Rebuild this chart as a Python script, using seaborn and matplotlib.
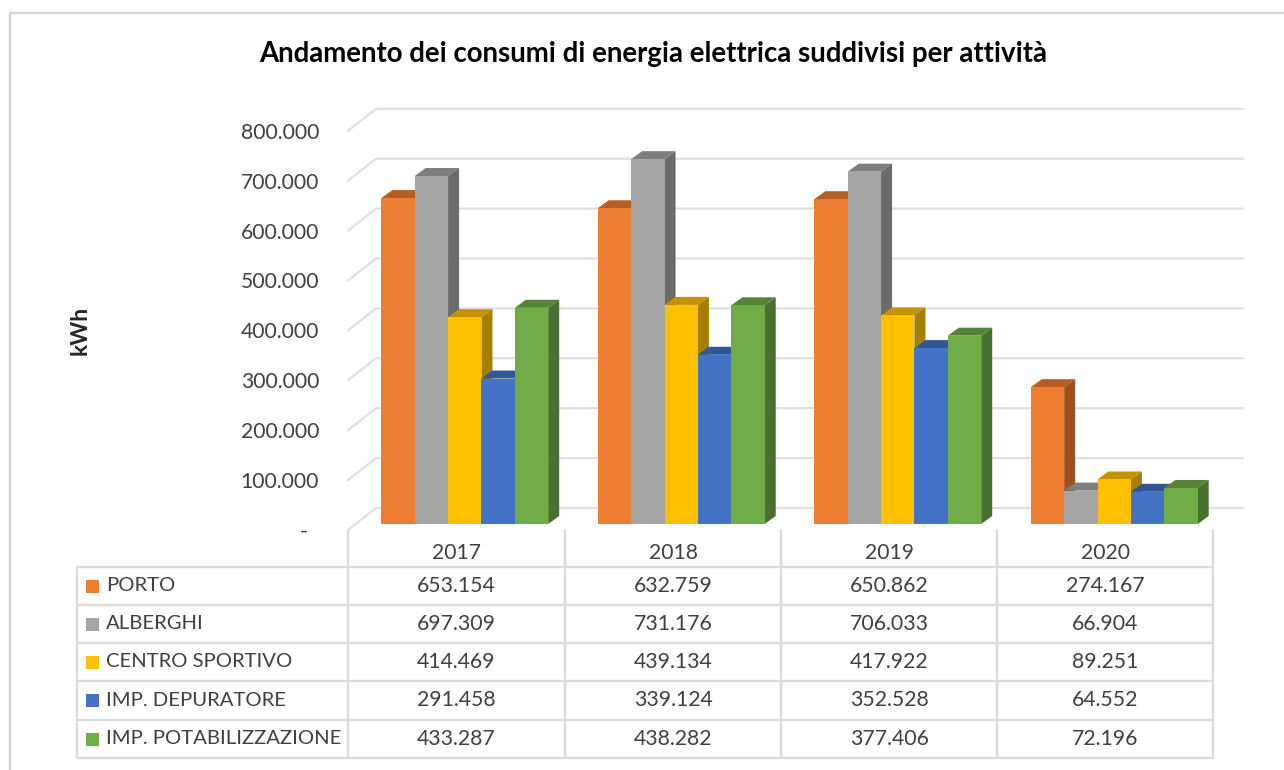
import matplotlib.pyplot as plt
import matplotlib.transforms as mtransforms
import pandas as pd
import seaborn as sns

years = ["2017", "2018", "2019", "2020"]
activities = [
    "PORTO",
    "ALBERGHI",
    "CENTRO SPORTIVO",
    "IMP. DEPURATORE",
    "IMP. POTABILIZZAZIONE",
]
porto = [653154, 632759, 650862, 274167]
alberghi = [697309, 731176, 706033, 66904]
centro_sportivo = [414469, 439134, 417922, 89251]
imp_depuratore = [291458, 339124, 352528, 64552]
imp_potabilizzazione = [433287, 438282, 377406, 72196]
y_ticks = [0, 100000, 200000, 300000, 400000, 500000, 600000, 700000, 800000]

series = [porto, alberghi, centro_sportivo, imp_depuratore, imp_potabilizzazione]
front_colors = ["#ED7D31", "#A5A5A5", "#FFC000", "#4472C4", "#70AD47"]
top_colors = ["#B55D23", "#7E7E7E", "#C29200", "#325796", "#558436"]
side_colors = ["#9C501E", "#6B6B6B", "#A67D00", "#2B4B81", "#49702E"]

GRID = "#E0E0E0"
TABLE = "#DCDCDC"
TEXT = "#404040"


def fmt(v):
    # Italian thousands separator
    return f"{v:,}".replace(",", ".")


df = pd.DataFrame(
    [
        {"year": y, "activity": a, "kWh": s[i]}
        for a, s in zip(activities, series)
        for i, y in enumerate(years)
    ]
)

sns.set_style("white")
plt.rcParams["font.family"] = ["Lato", "DejaVu Sans"]

fig = plt.figure(figsize=(12.84, 7.70), dpi=100)

# Page layer in pixels for the frame, title and data table
page = fig.add_axes([0, 0, 1, 1], zorder=0)
page.set_xlim(0, 1284)
page.set_ylim(770, 0)
page.axis("off")

# Bar layer: front plane of the 3D look
X0, X1, Y0, Y1 = 356.5, 1222.5, 524, 124.8
ax = fig.add_axes(
    [X0 / 1284, (770 - Y0) / 770, (X1 - X0) / 1284, (Y0 - Y1) / 770], zorder=1
)
ax.patch.set_visible(False)

sns.barplot(
    data=df,
    x="year",
    y="kWh",
    hue="activity",
    palette=front_colors,
    saturation=1,
    width=0.771,
    gap=0,
    legend=False,
    edgecolor="none",
    linewidth=0,
    ax=ax,
)
ax.set_xlim(-0.5, 3.5)
ax.set_ylim(0, 800000)

px_x = (X1 - X0) / 4
px_y = (Y0 - Y1) / 800000


def to_x(px):
    return (px - X0) / px_x - 0.5


def off_y(px):
    return px / px_y


# Gridlines run from the front wall to the back wall
for v in y_ticks:
    ax.plot(
        [to_x(348), to_x(376), to_x(1243)],
        [v - off_y(6), v + off_y(16), v + off_y(16)],
        color=GRID,
        lw=1.6,
        clip_on=False,
        zorder=1,
    )

# Depth faces of every bar
dep_x = 11 / px_x
dep_y = off_y(8)
for i, container in enumerate(ax.containers):
    for bar in container:
        bar.set_zorder(4 + i * 2)
        x = bar.get_x()
        w = bar.get_width()
        h = bar.get_height()
        ax.fill(
            [x, x + dep_x, x + w + dep_x, x + w],
            [h, h + dep_y, h + dep_y, h],
            color=top_colors[i],
            lw=0,
            clip_on=False,
            zorder=3 + i * 2,
        )
        ax.fill(
            [x + w, x + w + dep_x, x + w + dep_x, x + w],
            [0, dep_y, h + dep_y, h],
            color=side_colors[i],
            lw=0,
            clip_on=False,
            zorder=3 + i * 2,
        )

ax.set_xticks([])
ax.set_yticks(y_ticks)
ax.set_yticklabels(["-  "] + [fmt(v) for v in y_ticks[1:]])
ax.set_xlabel("")
ax.set_ylabel("")
ax.tick_params(axis="y", length=0, pad=27, labelsize=15.2, labelcolor=TEXT)
shift = mtransforms.ScaledTranslation(0, -6 / 100, fig.dpi_scale_trans)
for label in ax.get_yticklabels():
    label.set_transform(label.get_transform() + shift)
sns.despine(ax=ax, left=True, bottom=True)

# Frame
page.plot([10, 10, 1284], [770, 13, 13], color="#D4D4D4", lw=1.6)

page.text(653, 54, "Andamento dei consumi di energia elettrica suddivisi per attività",
          ha="center", va="center", fontsize=19.9, fontweight="bold", color="black")
page.text(80, 330, "kWh", rotation=90, ha="center", va="center",
          fontsize=16.5, fontweight="bold", color="#262626")

# Data table
col_x = [348, 565, 781, 997, 1213]
row_y = [567, 605, 643, 681, 720, 758]
for y in row_y:
    page.plot([77, 1213], [y, y], color=TABLE, lw=1.7)
page.plot([77, 77], [row_y[0], row_y[-1]], color=TABLE, lw=1.7)
for x in col_x:
    page.plot([x, x], [530, row_y[-1]], color=TABLE, lw=1.7)

for j, year in enumerate(years):
    page.text((col_x[j] + col_x[j + 1]) / 2, 553, year, ha="center", va="center",
              fontsize=15.2, color=TEXT)

for r, name in enumerate(activities):
    yc = (row_y[r] + row_y[r + 1]) / 2
    page.add_patch(plt.Rectangle((86, yc - 6.5), 13, 13, color=front_colors[r], lw=0))
    page.text(106, yc - 0.5, name, ha="left", va="center", fontsize=14.6, color=TEXT)
    for j in range(len(years)):
        page.text((col_x[j] + col_x[j + 1]) / 2, yc, fmt(series[r][j]),
                  ha="center", va="center", fontsize=15.3, color=TEXT)

fig.savefig("out.png", dpi=100, facecolor="white")
